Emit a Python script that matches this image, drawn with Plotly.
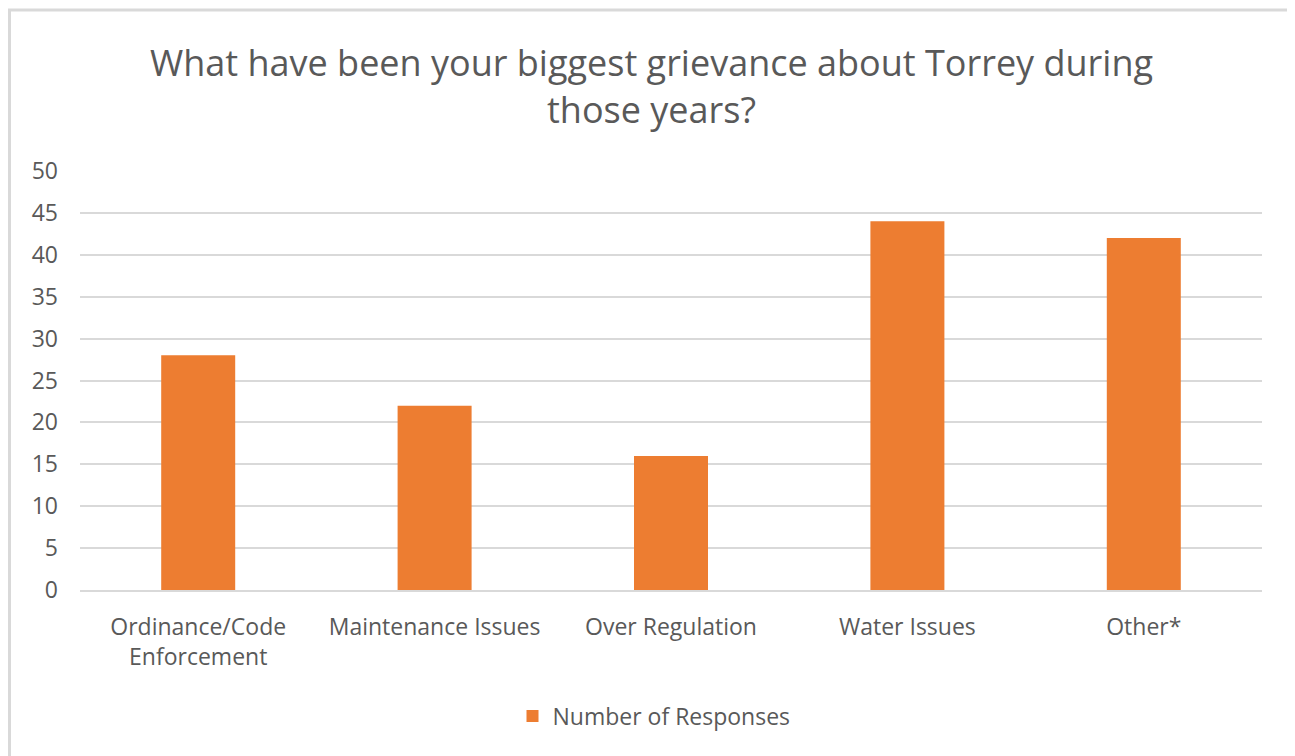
import plotly.graph_objects as go

categories = ["Ordinance/Code<br>Enforcement", "Maintenance Issues", "Over Regulation", "Water Issues", "Other*"]
responses = [28, 22, 16, 44, 42]
series_name = "Number of Responses"
y_ticks = [0, 5, 10, 15, 20, 25, 30, 35, 40, 45, 50]

FONT = "Open Sans"
GRAY = "#595959"

fig = go.Figure()
fig.add_trace(go.Bar(
    x=categories, y=responses, name=series_name,
    marker=dict(color="#ED7D31", line=dict(width=0)),
    width=0.313,
))

# figure is placed at an 8px page offset, so sizes are reduced by 8
W, H = 1287, 748
L, R, T, B = 72, 1254, 163, 582
pw, ph = R - L, B - T

fig.update_layout(
    width=W, height=H,
    margin=dict(l=L, r=W - R, t=T, b=H - B, autoexpand=False),
    paper_bgcolor="white", plot_bgcolor="white",
    font=dict(family=FONT, color=GRAY),
    title=dict(
        text="What have been your biggest grievance about Torrey during<br>those years?",
        x=(651.5 - 8) / W, xanchor="center", xref="container",
        y=1 - 68 / H, yanchor="middle",
        font=dict(size=36, color=GRAY, family=FONT),
    ),
    showlegend=True,
    legend=dict(
        orientation="h", x=0.5 - 17 / pw, xanchor="center", y=(B - 708) / ph, yanchor="middle",
        font=dict(size=23, color=GRAY, family=FONT),
        itemwidth=30,
    ),
    xaxis=dict(
        showgrid=False, showline=True, linecolor="#d9d9d9", linewidth=2,
        ticks="", tickfont=dict(size=23, color=GRAY, family=FONT),
        ticklabelstandoff=15,
    ),
    yaxis=dict(
        range=[0, 50], tickvals=y_ticks, showgrid=True, gridcolor="#d9d9d9", gridwidth=2,
        zeroline=False, showline=False, ticks="",
        tickfont=dict(size=23, color=GRAY, family=FONT),
        ticklabelstandoff=21,
    ),
    shapes=[dict(
        type="rect", xref="paper", yref="paper",
        x0=(1.5 - L) / pw, x1=(1285 - L) / pw,
        y0=(B - 800) / ph, y1=(B - 2) / ph,
        line=dict(color="#d9d9d9", width=3), fillcolor="rgba(0,0,0,0)", layer="below",
    )],
    bargap=0.687,
)

fig.write_html("out.html")
